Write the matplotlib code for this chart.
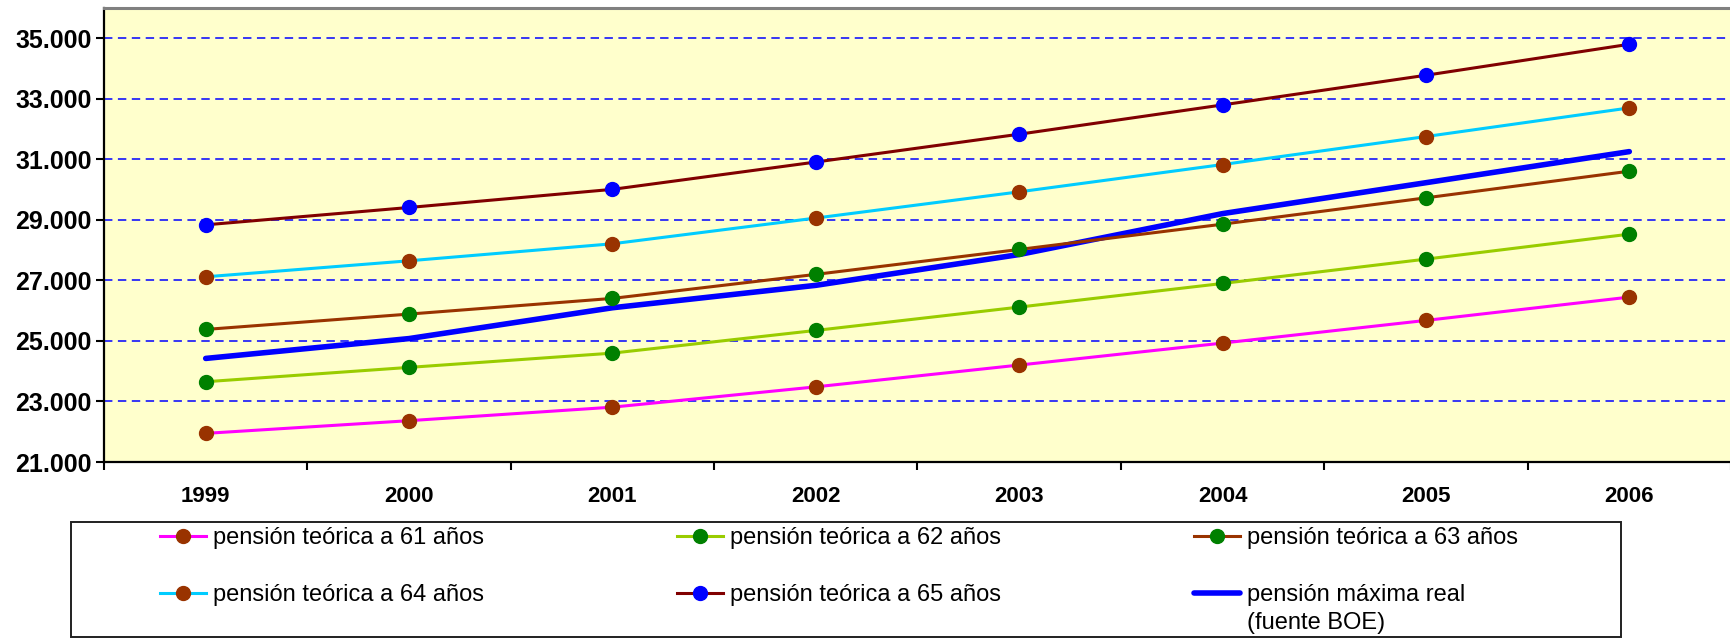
import matplotlib
matplotlib.use("Agg")
import matplotlib.pyplot as plt
from matplotlib.patches import Rectangle
from matplotlib.ticker import FixedLocator, FuncFormatter, NullFormatter

plt.rcParams["font.family"] = ["Liberation Sans", "DejaVu Sans"]

years = ["1999", "2000", "2001", "2002", "2003", "2004", "2005", "2006"]

pension_61 = [21946, 22365, 22812, 23483, 24203, 24929, 25678, 26448]
pension_62 = [23652, 24126, 24597, 25347, 26118, 26899, 27703, 28528]
pension_63 = [25380, 25887, 26405, 27199, 28022, 28858, 29728, 30608]
pension_64 = [27119, 27648, 28210, 29060, 29926, 30828, 31753, 32699]
pension_65 = [28836, 29409, 30008, 30911, 31830, 32798, 33778, 34802]
pension_real = [24422, 25078, 26096, 26837, 27855, 29207, 30228, 31255]

labels = [
    "pensión teórica a 61 años",
    "pensión teórica a 62 años",
    "pensión teórica a 63 años",
    "pensión teórica a 64 años",
    "pensión teórica a 65 años",
    "pensión máxima real",
]
source_note = "(fuente BOE)"

# (line colour, marker colour) per theoretical series
styles = [
    ("#FF00FF", "#993300"),
    ("#99CC00", "#008000"),
    ("#993300", "#008000"),
    ("#00CCFF", "#993300"),
    ("#800000", "#0000FF"),
]

W, H = 1731, 639
fig = plt.figure(figsize=(W / 100, H / 100), dpi=100)
ax = fig.add_axes([104 / W, 1 - 462 / H, 1 - 104 / W, (462 - 8) / H])
ax.set_facecolor("#FFFFCC")

x = list(range(len(years)))

handles = []
real_line, = ax.plot(x, pension_real, color="#0000FF", lw=4.0,
                     solid_capstyle="round", zorder=2)
series = [pension_61, pension_62, pension_63, pension_64, pension_65]
for vals, (lc, mc) in zip(series, styles):
    h, = ax.plot(x, vals, color=lc, lw=2.2, marker="o", markersize=10,
                 markerfacecolor=mc, markeredgecolor=mc, zorder=3)
    handles.append(h)
handles.append(real_line)

ax.set_xlim(-0.5, len(years) - 0.5)
ax.set_ylim(21000, 36000)

# y axis
ax.set_yticks(range(21000, 36000, 2000))
ax.yaxis.set_major_formatter(FuncFormatter(lambda v, p: f"{v:,.0f}".replace(",", ".")))
ax.tick_params(axis="y", direction="out", length=6, width=1.5, pad=3,
               labelsize=18)
for lab in ax.get_yticklabels():
    lab.set_fontweight("bold")
for yv in range(23000, 36000, 2000):
    ax.axhline(yv, color="#0000FF", lw=1.1, dashes=(5.5, 3.6), zorder=1)

# x axis: ticks at category borders, labels in the middle
ax.xaxis.set_major_locator(FixedLocator([i - 0.5 for i in range(len(years) + 1)]))
ax.xaxis.set_major_formatter(NullFormatter())
ax.xaxis.set_minor_locator(FixedLocator(x))
ax.set_xticklabels(years, minor=True, fontweight="bold", fontsize=16)
ax.tick_params(axis="x", which="major", direction="out", length=6, width=1.5)
ax.tick_params(axis="x", which="minor", length=0, pad=17)

ax.spines["left"].set_linewidth(1.6)
ax.spines["bottom"].set_linewidth(1.6)
ax.spines["top"].set_color("#808080")
ax.spines["top"].set_linewidth(2.2)
ax.spines["right"].set_visible(False)

# legend frame
fig.add_artist(Rectangle((71 / W, 1 - 637 / H), (1621 - 71) / W, (637 - 522) / H,
                         transform=fig.transFigure, fill=False,
                         edgecolor="#202020", lw=1.4))

leg_fs = 17
fs_px = leg_fs * 100 / 72
renderer = fig.canvas.get_renderer()
tmp = fig.text(0, 0, labels[0], fontsize=leg_fs)
text_w = tmp.get_window_extent(renderer).width
tmp.remove()
handle_px, pad_px, col_period = 46, 7, 517
colspace = (col_period - handle_px - pad_px - text_w) / fs_px

order = [0, 3, 1, 4, 2, 5]
leg = fig.legend([handles[i] for i in order], [labels[i] for i in order],
                 ncol=3, loc="upper left", bbox_to_anchor=(160 / W, 1 - 527 / H),
                 frameon=False, fontsize=leg_fs, borderpad=0, borderaxespad=0,
                 handlelength=handle_px / fs_px, handletextpad=pad_px / fs_px,
                 columnspacing=colspace, labelspacing=1.5)

fig.canvas.draw()
bb = leg.get_texts()[-1].get_window_extent(fig.canvas.get_renderer())
fig.text(bb.x0 / W, (bb.y0 - 6) / H, source_note, fontsize=leg_fs,
         ha="left", va="top")

fig.savefig("out.png", dpi=100)
